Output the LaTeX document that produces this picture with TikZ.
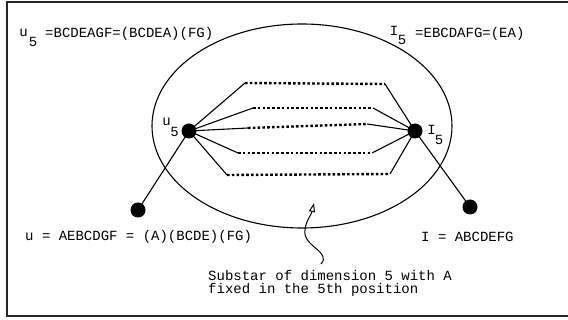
\documentclass[tikz,border=0pt]{standalone}
\usepackage{fontspec}
\setmonofont{Liberation Mono}
\usetikzlibrary{arrows.meta}
\begin{document}
\begin{tikzpicture}[x=1pt,y=-1pt,
  lbl/.style={inner sep=0pt,font=\ttfamily\fontsize{14}{16}\selectfont},
  vtx/.style={circle,fill=black,inner sep=0pt,minimum size=15pt},
  edge/.style={line width=1.1pt},
  dotline/.style={line width=2.4pt,dash pattern=on 2.6pt off 2.2pt}]
\useasboundingbox (0,0) rectangle (568,320);
% frame
\draw[line width=1.6pt,black!85] (575,2) -- (7,2) -- (7,316) -- (575,316);
% ellipse
\draw[line width=1.1pt] (302,126) ellipse [x radius=150, y radius=102];
% vertices
\node[vtx] (u5) at (189,131) {};
\node[vtx] (I5) at (415,131) {};
\node[vtx] (u) at (138,210) {};
\node[vtx] (I) at (470,207) {};
% dotted path ends
\coordinate (a1) at (245,83);  \coordinate (b1) at (385,84);
\coordinate (a2) at (253,108); \coordinate (b2) at (373,108);
\coordinate (a3) at (248,128); \coordinate (b3) at (367,124);
\coordinate (a4) at (238,153); \coordinate (b4) at (372,153);
\coordinate (a5) at (227,175); \coordinate (b5) at (390,174);
\foreach \i in {1,...,5}{
  \draw[edge] (u5.center) -- (a\i);
  \draw[dotline] (a\i) -- (b\i);
  \draw[edge] (b\i) -- (I5.center);
}
\draw[edge] (u5.center) -- (u.center);
\draw[edge] (I5.center) -- (I.center);
% squiggle arrow
\coordinate (sq0) at (321,264);
\coordinate (sq1) at (314,203);
\draw[line width=1pt,-{Triangle[open,length=9pt,width=6pt,line width=1pt]}]
  (sq0) .. controls (332,252) and (302,246) .. (305,230)
        .. controls (306,220) and (311,216) .. (sq1);
% labels
\node[lbl,anchor=base] (t1) at (23.5,36.5) {u};
\node[lbl,anchor=base] (t2) at (33,46.5) {5};
\node[lbl,anchor=base west] (t3) at (45,38) {=BCDEAGF=(BCDEA)(FG)};
\node[lbl,anchor=base] (t4) at (394,35.5) {I};
\node[lbl,anchor=base] (t5) at (402,45) {5};
\node[lbl,anchor=base west] (t6) at (415,37.5) {=EBCDAFG=(EA)};
\node[lbl,anchor=base] (t7) at (166.5,125.5) {u};
\node[lbl,anchor=base] (t8) at (174.5,137) {5};
\node[lbl,anchor=base] (t9) at (431.5,135) {I};
\node[lbl,anchor=base] (t10) at (439,145) {5};
\node[lbl,anchor=base west] (t11) at (25,241) {u = AEBCDGF = (A)(BCDE)(FG)};
\node[lbl,anchor=base west] (t12) at (421,242) {I = ABCDEFG};
\node[lbl,anchor=base west] (t13) at (208,281) {Substar of dimension 5 with A};
\node[lbl,anchor=base west] (t14) at (208,294) {fixed in the 5th position};
\end{tikzpicture}
\end{document}
